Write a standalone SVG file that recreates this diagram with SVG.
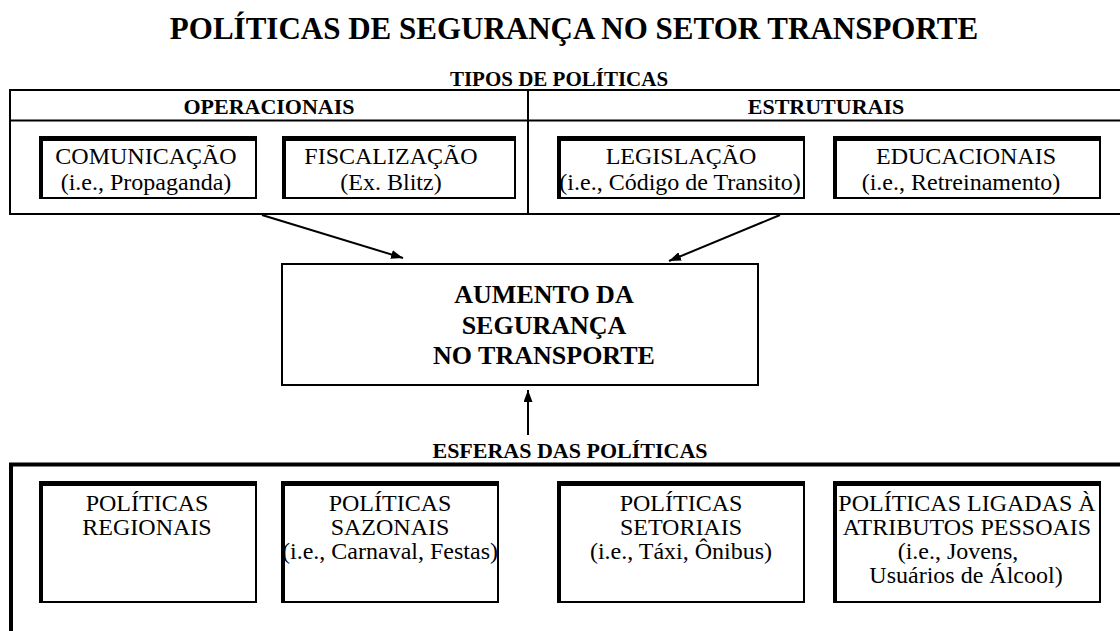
<svg xmlns="http://www.w3.org/2000/svg" width="1120" height="631" viewBox="0 0 1120 631">
<defs>
<style>
.t{font-family:"Liberation Serif","Times New Roman",serif;fill:#000;text-anchor:middle}
.title{font-size:31px;font-weight:bold}
.hdr{font-size:22px;font-weight:bold}
.main{font-size:26px;font-weight:bold}
.lbl{font-size:24px}
.frame{fill:none;stroke:#000;stroke-width:2}
.frame4{fill:none;stroke:#000;stroke-width:4}
.box{fill:#fff;stroke:#000;stroke-width:2}
.edge{fill:none;stroke:#000;stroke-width:4}
.conn{fill:none;stroke:#000;stroke-width:2;marker-end:url(#arrow)}
</style>
<marker id="arrow" viewBox="0 0 12 9" refX="12" refY="4.5" markerWidth="12" markerHeight="9" markerUnits="userSpaceOnUse" orient="auto"><path d="M0,0 L12,4.5 L0,9 z" fill="#000"/></marker>
</defs>
<rect width="1120" height="631" fill="#fff"/>

<text class="t title" x="574" y="39">POLÍTICAS DE SEGURANÇA NO SETOR TRANSPORTE</text>

<g id="tipos">
<path class="frame" d="M1120,90 H10 V214 H1120 M10,120.5 H1120 M528,90 V214"/>
<text class="t hdr" x="559" y="86" style="font-size:21px">TIPOS DE POLÍTICAS</text>
<text class="t hdr" x="269" y="114">OPERACIONAIS</text>
<text class="t hdr" x="826" y="114">ESTRUTURAIS</text>
</g>

<g id="comunicacao">
<rect class="box" x="40" y="137" width="216" height="61"/>
<path class="edge" d="M41,199 V139 H257"/>
<text class="t lbl" x="146" y="164">COMUNICAÇÃO</text>
<text class="t lbl" x="146" y="190">(i.e., Propaganda)</text>
</g>
<g id="fiscalizacao">
<rect class="box" x="283" y="137" width="232" height="61"/>
<path class="edge" d="M284,199 V139 H516"/>
<text class="t lbl" x="391" y="164">FISCALIZAÇÃO</text>
<text class="t lbl" x="391" y="190">(Ex. Blitz)</text>
</g>
<g id="legislacao">
<rect class="box" x="558" y="137" width="246" height="61"/>
<path class="edge" d="M559,199 V139 H805"/>
<text class="t lbl" x="681" y="164">LEGISLAÇÃO</text>
<text class="t lbl" x="680" y="190">(i.e., Código de Transito)</text>
</g>
<g id="educacionais">
<rect class="box" x="834" y="137" width="266" height="61"/>
<path class="edge" d="M835,199 V139 H1101"/>
<text class="t lbl" x="966" y="164">EDUCACIONAIS</text>
<text class="t lbl" x="961" y="190">(i.e., Retreinamento)</text>
</g>

<g id="aumento">
<rect class="box" x="282" y="264" width="476" height="121"/>
<text class="t main" x="544" y="303">AUMENTO DA</text>
<text class="t main" x="544" y="334">SEGURANÇA</text>
<text class="t main" x="544" y="364">NO TRANSPORTE</text>
</g>

<g id="esferas">
<path class="frame4" d="M11,631 V464.5 H1120"/>
<text class="t hdr" x="570" y="458">ESFERAS DAS POLÍTICAS</text>
</g>

<g id="regionais">
<rect class="box" x="40" y="482" width="216" height="120"/>
<path class="edge" d="M41,603 V484 H257"/>
<text class="t lbl" x="147" y="511">POLÍTICAS</text>
<text class="t lbl" x="147" y="535">REGIONAIS</text>
</g>
<g id="sazonais">
<rect class="box" x="282" y="482" width="216" height="120"/>
<path class="edge" d="M283,603 V484 H499"/>
<text class="t lbl" x="390" y="511">POLÍTICAS</text>
<text class="t lbl" x="390" y="535">SAZONAIS</text>
<text class="t lbl" x="390" y="559">(i.e., Carnaval, Festas)</text>
</g>
<g id="setoriais">
<rect class="box" x="558" y="482" width="246" height="120"/>
<path class="edge" d="M559,603 V484 H805"/>
<text class="t lbl" x="681" y="511">POLÍTICAS</text>
<text class="t lbl" x="681" y="535">SETORIAIS</text>
<text class="t lbl" x="681" y="559">(i.e., Táxi, Ônibus)</text>
</g>
<g id="pessoais">
<rect class="box" x="834" y="482" width="266" height="120"/>
<path class="edge" d="M835,603 V484 H1101"/>
<text class="t lbl" x="967" y="511">POLÍTICAS LIGADAS À</text>
<text class="t lbl" x="967" y="535">ATRIBUTOS PESSOAIS</text>
<text class="t lbl" x="958" y="559">(i.e., Jovens,</text>
<text class="t lbl" x="966" y="583">Usuários de Álcool)</text>
</g>

<g id="connectors">
<path class="conn" d="M262,215 L403,258"/>
<path class="conn" d="M780,215 L669,261"/>
<path class="conn" d="M528,435 L528,390"/>
</g>
</svg>
